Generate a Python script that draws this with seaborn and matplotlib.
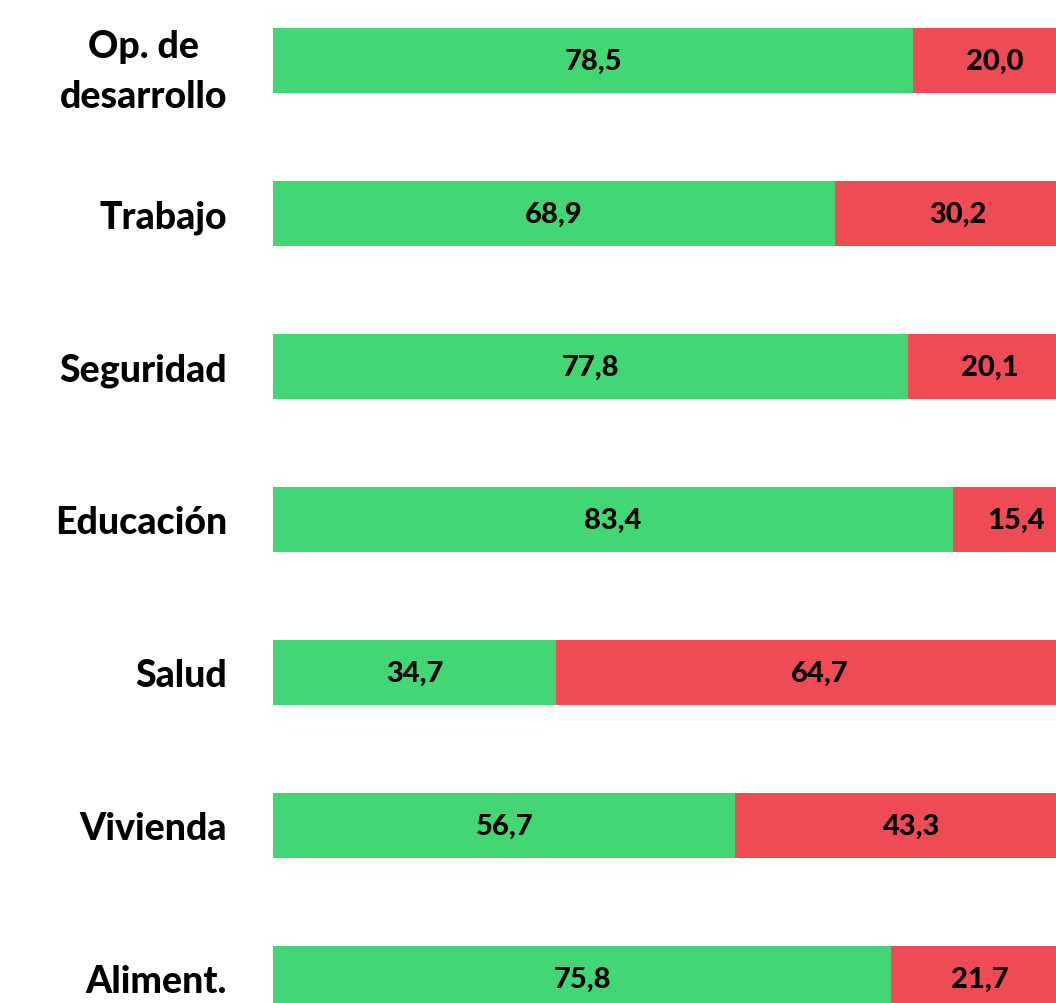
import numpy as np
import pandas as pd
import seaborn as sns
import matplotlib.pyplot as plt

# valores por categoría (%)
categorias = ['Op. de\ndesarrollo', 'Trabajo', 'Seguridad', 'Educación', 'Salud', 'Vivienda', 'Aliment.']
favorable = [78.5, 68.9, 77.8, 83.4, 34.7, 56.7, 75.8]
desfavorable = [20.0, 30.2, 20.1, 15.4, 64.7, 43.3, 21.7]

verde = '#43d675'
rojo = '#ee4b55'

df = pd.DataFrame({'categoria': categorias, 'favorable': favorable, 'desfavorable': desfavorable})
df['total'] = df['favorable'] + df['desfavorable']

sns.set_style('white')
plt.rcParams['font.family'] = ['Lato', 'DejaVu Sans']

fig = plt.figure(figsize=(10.56, 10.04), dpi=100)
ax = fig.add_axes([273 / 1056, 0, 1 - 273 / 1056, 1])

# barra total en rojo, luego la parte verde encima
sns.barplot(data=df, x='total', y='categoria', color=rojo, orient='h', width=0.425,
            saturation=1, linewidth=0, ax=ax)
sns.barplot(data=df, x='favorable', y='categoria', color=verde, orient='h', width=0.425,
            saturation=1, linewidth=0, ax=ax)

for i, row in df.iterrows():
    ax.text(row['favorable'] / 2, i, f"{row['favorable']:.1f}".replace('.', ','),
            ha='center', va='center', fontsize=21, fontweight='black', color='black')
    ax.text(row['favorable'] + row['desfavorable'] / 2, i, f"{row['desfavorable']:.1f}".replace('.', ','),
            ha='center', va='center', fontsize=21, fontweight='black', color='black', clip_on=True)

ax.set_xlim(0, 96)
ax.set_ylim((1004 - 61.5) / 153, -61.5 / 153)
ax.set_xlabel('')
ax.set_ylabel('')
ax.set_xticks([])
ax.tick_params(axis='y', length=0, pad=33, labelcolor='black')
for lab in ax.get_yticklabels():
    lab.set_fontsize(27)
    lab.set_fontweight('black')
    lab.set_multialignment('center')
    lab.set_linespacing(1.55)
sns.despine(ax=ax, left=True, bottom=True)

fig.savefig('out.png', dpi=100)
